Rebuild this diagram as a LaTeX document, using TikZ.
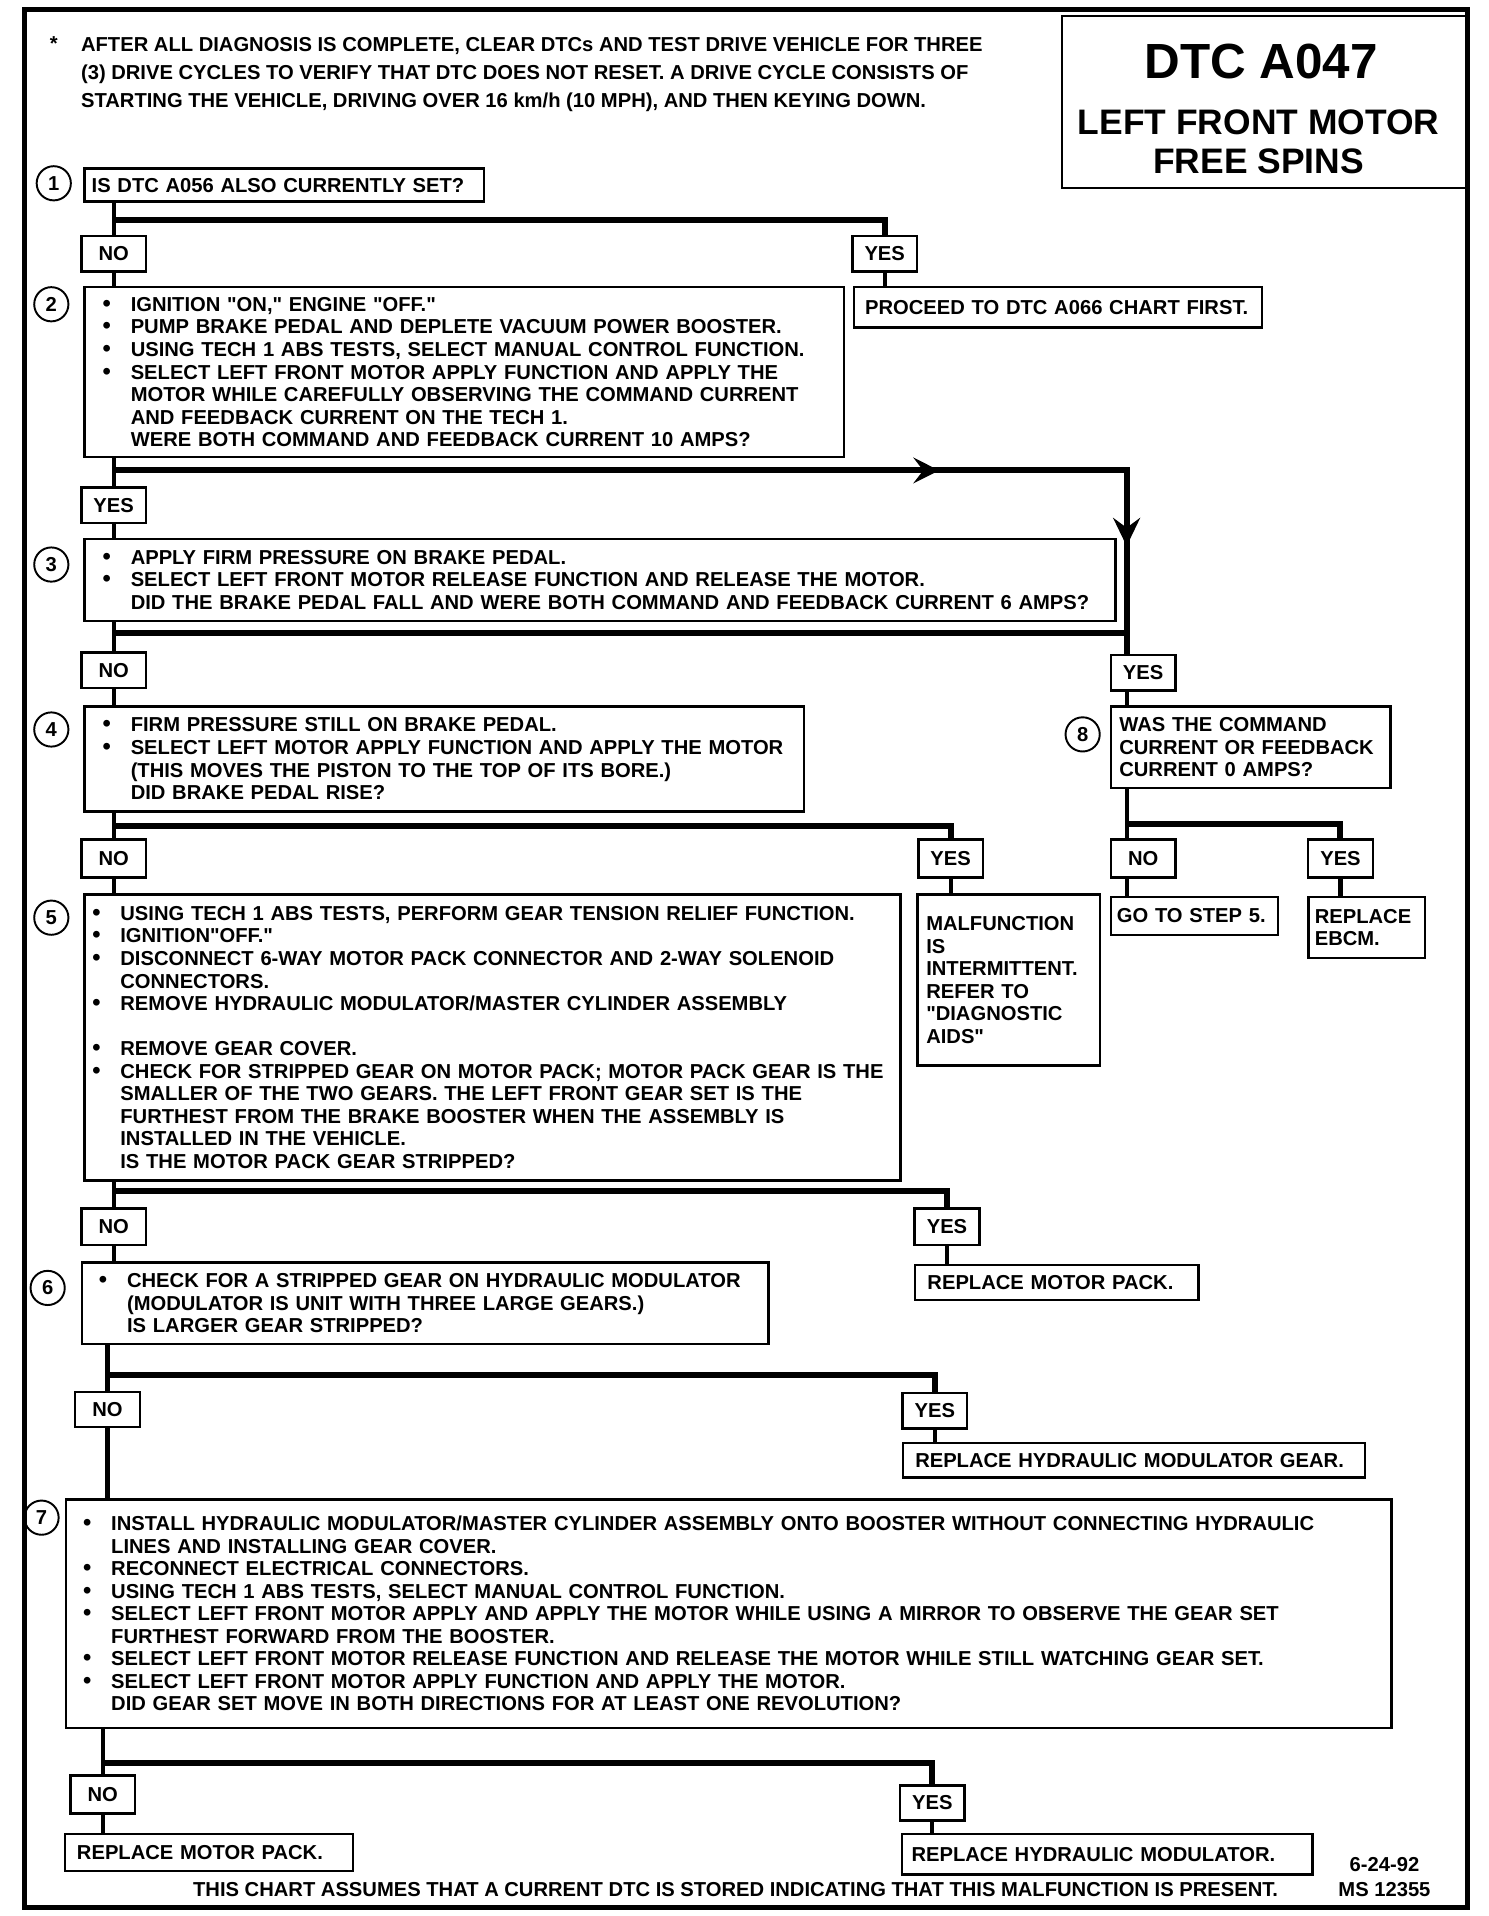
\documentclass[tikz,border=0pt]{standalone}
\usepackage{fontspec}
\setmainfont{Liberation Sans}
\usepackage{tikz}
\usetikzlibrary{arrows.meta,positioning,decorations.markings}

\newcommand{\bodyfont}{\fontsize{9.4}{10.5}\selectfont\bfseries}
\newcommand{\bul}{\makebox[0.46cm][l]{\smash{\fontsize{11}{10.5}\selectfont\textbullet}}}
\newcommand{\ind}{\hspace*{0.46cm}}
\newcommand{\qq}{\textquotedbl}

\begin{document}
\begin{tikzpicture}[x=0.02cm, y=-0.02cm,
  stepbox/.style={draw, line width=1.15pt, anchor=north west, inner sep=0pt,
    align=left, font=\bodyfont},
  answer/.style={draw, line width=1.15pt, anchor=north, inner sep=0pt,
    minimum width=1.06cm, minimum height=0.58cm, font=\bodyfont},
  num/.style={circle, draw, line width=0.9pt, minimum size=0.56cm, inner sep=0pt,
    font=\bodyfont},
  note/.style={align=left, inner sep=0pt, font=\bodyfont},
  conn/.style={line width=1.9pt},
  bar/.style={line width=2.8pt},
  midarrows/.style={postaction={decorate}, decoration={markings,
    mark=at position 0.69 with {\arrow{Stealth[length=0.42cm, width=0.42cm, inset=0.16cm]}},
    mark=at position 0.91 with {\arrow{Stealth[length=0.46cm, width=0.44cm, inset=0.16cm]}}}}
]
\useasboundingbox (0,0) rectangle (1218,1568);
\draw[line width=2.3pt] (20,8) rectangle (1201,1561);

% title and note
\node[draw, line width=1.15pt, anchor=north west, minimum width=6.66cm, minimum height=2.82cm] (title) at (868,12) {};
\node[font=\fontsize{23}{26}\selectfont\bfseries] (dtc) at (1032,50) {DTC A047};
\node[align=center, font=\fontsize{16.5}{18.2}\selectfont\bfseries] (what) at (1030,116) {LEFT FRONT MOTOR\\FREE SPINS};
\node[note] (star) at (44,36) {*};
\node[note, anchor=west, font=\fontsize{9.4}{13.1}\selectfont\bfseries] (intro) at (66,61)
  {AFTER  ALL DIAGNOSIS IS COMPLETE, CLEAR DTCs AND TEST DRIVE VEHICLE FOR THREE\\
   (3) DRIVE CYCLES TO VERIFY THAT DTC DOES NOT RESET.  A DRIVE CYCLE CONSISTS OF\\
   STARTING THE VEHICLE, DRIVING OVER 16 km/h (10 MPH), AND THEN KEYING DOWN.};

% steps
\node[stepbox, minimum width=6.54cm, minimum height=0.54cm, text width=6.3cm] (b1) at (68,137)
  {IS DTC A056 ALSO CURRENTLY SET?};
\node[stepbox, minimum width=12.44cm, minimum height=2.78cm, text width=11.84cm] (b2) at (68,234)
  {\bul IGNITION \qq ON,\qq{} ENGINE \qq OFF.\qq\\
   \bul PUMP BRAKE PEDAL AND DEPLETE VACUUM POWER BOOSTER.\\
   \bul USING TECH 1 ABS TESTS, SELECT MANUAL CONTROL FUNCTION.\\
   \bul SELECT LEFT FRONT MOTOR APPLY FUNCTION AND APPLY THE\\
   \ind MOTOR WHILE CAREFULLY OBSERVING THE COMMAND CURRENT\\
   \ind AND FEEDBACK CURRENT ON THE TECH 1.\\
   \ind WERE BOTH COMMAND AND FEEDBACK CURRENT 10 AMPS?};
\node[stepbox, minimum width=16.88cm, minimum height=1.34cm, text width=16.28cm] (b3) at (68,440)
  {\bul APPLY FIRM PRESSURE ON BRAKE PEDAL.\\
   \bul SELECT LEFT FRONT MOTOR RELEASE FUNCTION AND RELEASE THE MOTOR.\\
   \ind DID THE BRAKE PEDAL FALL AND WERE BOTH COMMAND AND FEEDBACK CURRENT 6 AMPS?};
\node[stepbox, minimum width=11.78cm, minimum height=1.72cm, text width=11.18cm] (b4) at (68,577)
  {\bul FIRM PRESSURE STILL ON BRAKE PEDAL.\\
   \bul SELECT LEFT MOTOR APPLY FUNCTION AND APPLY THE MOTOR\\
   \ind (THIS MOVES THE PISTON TO THE TOP OF ITS BORE.)\\
   \ind DID BRAKE PEDAL RISE?};
\node[stepbox, minimum width=4.58cm, minimum height=1.34cm, text width=4.3cm] (b8) at (908,577)
  {WAS THE COMMAND\\CURRENT OR FEEDBACK\\CURRENT 0 AMPS?};
\node[stepbox, minimum width=13.36cm, minimum height=4.68cm, text width=13.1cm] (b5) at (68,731)
  {\bul USING TECH 1 ABS TESTS, PERFORM GEAR TENSION RELIEF FUNCTION.\\
   \bul IGNITION\qq OFF.\qq\\
   \bul DISCONNECT 6-WAY MOTOR PACK CONNECTOR AND 2-WAY SOLENOID\\
   \ind CONNECTORS.\\
   \bul REMOVE HYDRAULIC MODULATOR/MASTER CYLINDER ASSEMBLY\\[10.5pt]
   \bul REMOVE GEAR COVER.\\
   \bul CHECK FOR STRIPPED GEAR ON MOTOR PACK; MOTOR PACK GEAR IS THE\\
   \ind SMALLER OF THE TWO GEARS.  THE LEFT FRONT GEAR SET IS THE\\
   \ind FURTHEST FROM THE BRAKE BOOSTER WHEN THE ASSEMBLY IS\\
   \ind INSTALLED IN THE VEHICLE.\\
   \ind IS THE MOTOR PACK GEAR STRIPPED?};
\node[stepbox, minimum width=11.24cm, minimum height=1.34cm, text width=10.68cm] (b6) at (66,1032)
  {\bul CHECK FOR A STRIPPED GEAR ON HYDRAULIC MODULATOR\\
   \ind (MODULATOR IS UNIT WITH THREE LARGE GEARS.)\\
   \ind IS LARGER GEAR STRIPPED?};
\node[stepbox, minimum width=21.7cm, minimum height=3.74cm, text width=21.14cm] (b7) at (53,1226)
  {\bul INSTALL HYDRAULIC MODULATOR/MASTER CYLINDER ASSEMBLY ONTO BOOSTER WITHOUT CONNECTING HYDRAULIC\\
   \ind LINES AND INSTALLING GEAR COVER.\\
   \bul RECONNECT ELECTRICAL CONNECTORS.\\
   \bul USING TECH 1 ABS TESTS, SELECT MANUAL CONTROL FUNCTION.\\
   \bul SELECT LEFT FRONT MOTOR APPLY AND APPLY THE MOTOR WHILE USING A MIRROR TO OBSERVE THE GEAR SET\\
   \ind FURTHEST FORWARD FROM THE BOOSTER.\\
   \bul SELECT LEFT FRONT MOTOR RELEASE FUNCTION AND RELEASE THE MOTOR WHILE STILL WATCHING GEAR SET.\\
   \bul SELECT LEFT FRONT MOTOR APPLY FUNCTION AND APPLY THE MOTOR.\\
   \ind DID GEAR SET MOVE IN BOTH DIRECTIONS FOR AT LEAST ONE REVOLUTION?};

% step numbers
\node[num] (n1) at (44,150) {1};
\node[num] (n2) at (42,249) {2};
\node[num] (n3) at (42,462) {3};
\node[num] (n4) at (42,597) {4};
\node[num] (n5) at (42,751) {5};
\node[num] (n6) at (39,1054) {6};
\node[num] (n7) at (34,1242) {7};
\node[num] (n8) at (886,601) {8};

% answers
\node[answer] (no1) at (93,192) {NO};
\node[answer] (yes1) at (724,192) {YES};
\node[answer] (yes2) at (93,398) {YES};
\node[answer] (no3) at (93,533) {NO};
\node[answer, anchor=north west] (yes3) at (908,535) {YES};
\node[answer, minimum height=0.62cm] (no4) at (93,686) {NO};
\node[answer, minimum height=0.62cm] (yes4) at (778,686) {YES};
\node[answer, minimum height=0.62cm, anchor=north west] (no8) at (908,686) {NO};
\node[answer, minimum height=0.62cm] (yes8) at (1097,686) {YES};
\node[answer, minimum height=0.6cm] (no5) at (93,988) {NO};
\node[answer, minimum height=0.6cm] (yes5) at (775,988) {YES};
\node[answer] (no6) at (88,1138) {NO};
\node[answer] (yes6) at (765,1139) {YES};
\node[answer, minimum height=0.62cm] (no7) at (84,1452) {NO};
\node[answer] (yes7) at (763,1460) {YES};

% results
\node[stepbox, minimum width=6.68cm, minimum height=0.66cm, text width=6.32cm] (r1) at (698,234)
  {PROCEED TO DTC A066 CHART FIRST.};
\node[stepbox, minimum width=2.98cm, minimum height=2.8cm, text width=2.7cm] (r4) at (750,731)
  {MALFUNCTION\\IS\\INTERMITTENT.\\REFER TO\\\qq DIAGNOSTIC\\AIDS\qq};
\node[stepbox, minimum width=2.74cm, minimum height=0.62cm, text width=2.54cm] (r8no) at (908,733)
  {GO TO STEP 5.};
\node[stepbox, minimum width=1.9cm, minimum height=1.0cm, text width=1.7cm] (r8yes) at (1070,733)
  {REPLACE\\EBCM.};
\node[stepbox, minimum width=4.64cm, minimum height=0.58cm, text width=4.24cm] (r5) at (748,1034)
  {REPLACE MOTOR PACK.};
\node[stepbox, minimum width=7.56cm, minimum height=0.56cm, text width=7.16cm] (r6) at (738,1180)
  {REPLACE HYDRAULIC MODULATOR GEAR.};
\node[stepbox, minimum width=4.72cm, minimum height=0.6cm, text width=4.32cm] (r7no) at (52,1500)
  {REPLACE MOTOR PACK.};
\node[stepbox, minimum width=6.72cm, minimum height=0.66cm, text width=6.4cm] (r7yes) at (737,1500)
  {REPLACE HYDRAULIC MODULATOR.};

% footer
\node[note] (foot) at (602,1546) {THIS CHART ASSUMES THAT A CURRENT DTC IS STORED INDICATING THAT THIS MALFUNCTION IS PRESENT.};
\node[note, align=center, font=\fontsize{9.4}{11.4}\selectfont\bfseries] (date) at (1133,1536) {6-24-92\\MS 12355};

% junctions
\coordinate (j1) at (93,180);
\coordinate (j2) at (93,385);
\coordinate (k2) at (922,385);
\coordinate (j3) at (93,518);
\coordinate (k3) at (922,518);
\coordinate (j4) at (93,676);
\coordinate (j8) at (922,674);
\coordinate (j5) at (93,975);
\coordinate (j6) at (88,1125);
\coordinate (j7) at (84,1443);

% connectors
\draw[conn] (b1.south -| no1) -- (no1);
\draw[bar] (j1) -| (yes1);
\draw[conn] (no1) -- (no1 |- b2.north);
\draw[conn] (yes1) -- (yes1 |- r1.north);
\draw[conn] (b2.south -| yes2) -- (yes2);
\draw[bar, midarrows] (j2) -- (k2) -- (k2 |- yes3.north);
\draw[conn] (yes2) -- (yes2 |- b3.north);
\draw[conn] (b3.south -| no3) -- (no3);
\draw[bar] (j3) -- (k3);
\draw[conn] (no3) -- (no3 |- b4.north);
\draw[conn] (k2 |- yes3.south) -- (k2 |- b8.north);
\draw[conn] (b4.south -| no4) -- (no4);
\draw[bar] (j4) -| (yes4);
\draw[conn] (no4) -- (no4 |- b5.north);
\draw[conn] (yes4) -- (yes4 |- r4.north);
\draw[conn] (b8.south -| j8) -- (j8 |- no8.north);
\draw[bar] (j8) -| (yes8);
\draw[conn] (j8 |- no8.south) -- (j8 |- r8no.north);
\draw[conn] (yes8) -- (yes8 |- r8yes.north);
\draw[conn] (b5.south -| no5) -- (no5);
\draw[bar] (j5) -| (yes5);
\draw[conn] (no5) -- (no5 |- b6.north);
\draw[conn] (yes5) -- (yes5 |- r5.north);
\draw[conn] (b6.south -| no6) -- (no6);
\draw[bar] (j6) -| (yes6);
\draw[conn] (no6) -- (no6 |- b7.north);
\draw[conn] (yes6) -- (yes6 |- r6.north);
\draw[conn] (b7.south -| no7) -- (no7);
\draw[bar] (j7) -| (yes7);
\draw[conn] (no7) -- (no7 |- r7no.north);
\draw[conn] (yes7) -- (yes7 |- r7yes.north);

\end{tikzpicture}
\end{document}
